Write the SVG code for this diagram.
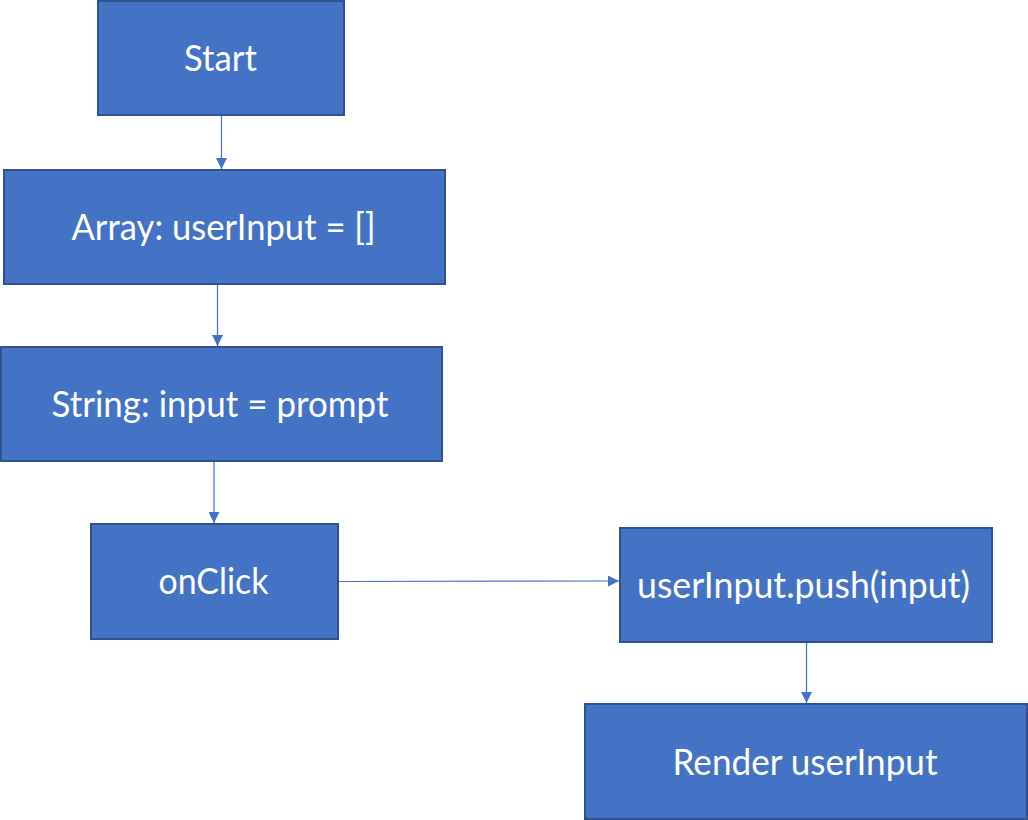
<svg xmlns="http://www.w3.org/2000/svg" width="1028" height="820" viewBox="0 0 1028 820">
<style>
.box{fill:#4472C4;stroke:#2F528F;stroke-width:2}
.lbl{fill:#FFFFFF;font-family:Lato,"Open Sans","Liberation Sans",sans-serif;font-size:36px;text-anchor:middle}
.conn{stroke:#4472C4;stroke-width:1.2;fill:none}
</style>
<defs>
<marker id="arr" markerUnits="userSpaceOnUse" markerWidth="12" markerHeight="11" refX="11" refY="5.5" orient="auto">
<path d="M0,0 L11,5.5 L0,11 Z" fill="#4472C4"/>
</marker>
</defs>
<rect width="1028" height="820" fill="#FFFFFF"/>
<g id="connectors">
<line class="conn" x1="221.5" y1="116" x2="221.5" y2="169" marker-end="url(#arr)"/>
<line class="conn" x1="217.5" y1="285" x2="217.5" y2="346" marker-end="url(#arr)"/>
<line class="conn" x1="214" y1="462" x2="214" y2="523" marker-end="url(#arr)"/>
<line class="conn" x1="339" y1="581.5" x2="619" y2="581" marker-end="url(#arr)"/>
<line class="conn" x1="806.5" y1="643" x2="806.5" y2="703" marker-end="url(#arr)"/>
</g>
<g id="start">
<rect class="box" x="98" y="1" width="246" height="114"/>
<text class="lbl" x="220.5" y="71" textLength="73" lengthAdjust="spacingAndGlyphs">Start</text>
</g>
<g id="array">
<rect class="box" x="4" y="170" width="441" height="114"/>
<text class="lbl" x="223.5" y="239.5" textLength="304" lengthAdjust="spacingAndGlyphs">Array: userInput = []</text>
</g>
<g id="string">
<rect class="box" x="1" y="347" width="441" height="114"/>
<text class="lbl" x="220" y="417" textLength="337" lengthAdjust="spacingAndGlyphs">String: input = prompt</text>
</g>
<g id="onclick">
<rect class="box" x="91" y="524" width="247" height="115"/>
<text class="lbl" x="213.5" y="594" textLength="110" lengthAdjust="spacingAndGlyphs">onClick</text>
</g>
<g id="push">
<rect class="box" x="620" y="528" width="372" height="114"/>
<text class="lbl" x="803.5" y="597.5" textLength="333" lengthAdjust="spacingAndGlyphs">userInput.push(input)</text>
</g>
<g id="render">
<rect class="box" x="585" y="704" width="442" height="115"/>
<text class="lbl" x="805" y="775" textLength="265" lengthAdjust="spacingAndGlyphs">Render userInput</text>
</g>
</svg>
